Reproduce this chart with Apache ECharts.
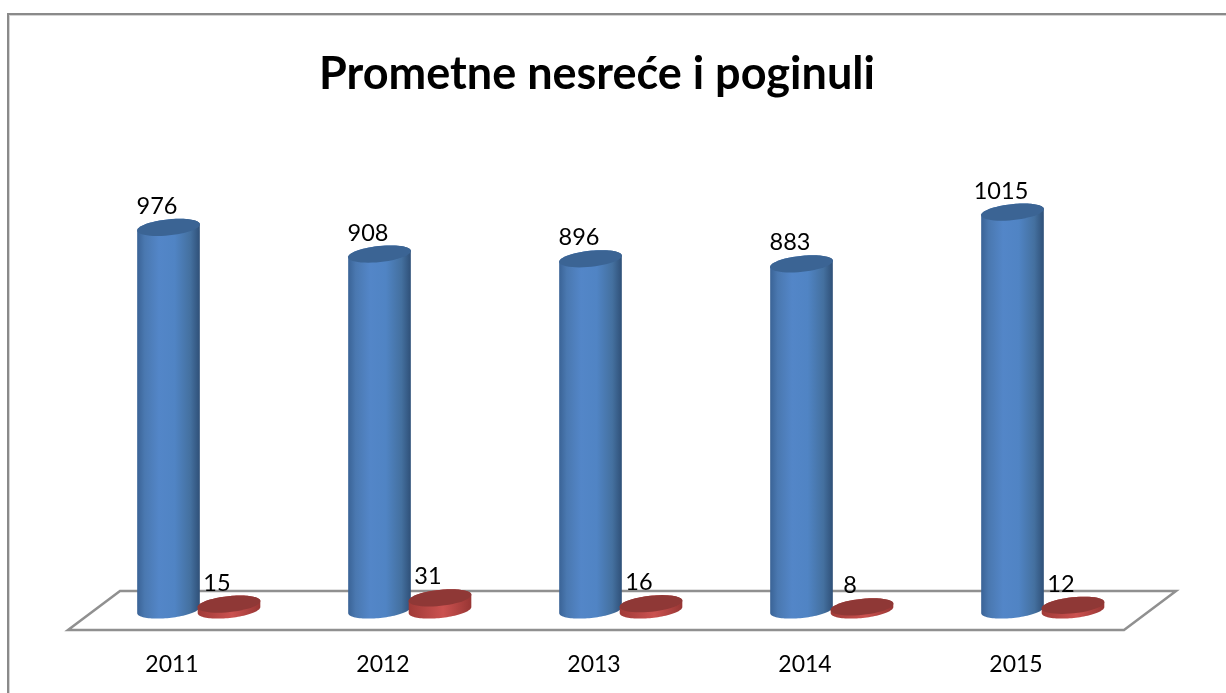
<!DOCTYPE html>
<html><head><meta charset="utf-8">
<style>html,body{margin:0;padding:0;background:#fff}#c{width:1226px;height:693px}</style>
<script src="https://cdn.jsdelivr.net/npm/echarts@6/dist/echarts.min.js"></script>
</head><body><div id="c"></div>
<script>
const categories = ['2011','2012','2013','2014','2015'];
const nesrece = [976,908,896,883,1015];
const poginuli = [15,31,16,8,12];
const titleText = 'Prometne nesreće i poginuli';

const FONT = 'Lato, "Open Sans", sans-serif';
const TILT = -6 * Math.PI / 180;
function ellipsePts(cx, cy, rx, ry, from, to) {
  const pts = [];
  const n = 48;
  for (let i = 0; i <= n; i++) {
    const t = from + (to - from) * i / n;
    const x = rx * Math.cos(t), y = ry * Math.sin(t);
    pts.push([cx + x * Math.cos(TILT) - y * Math.sin(TILT), cy + x * Math.sin(TILT) + y * Math.cos(TILT)]);
  }
  return pts;
}
function grad(stops) {
  return new echarts.graphic.LinearGradient(0, 0, 1, 0, stops.map(s => ({offset: s[0], color: s[1]})));
}
function cylinder(offsetX, body, topColor, labelDx) {
  return function (params, api) {
    const cat = api.value(0), val = api.value(1);
    const top = api.coord([cat, val]);
    const base = api.coord([cat, 0]);
    const cx = top[0] + offsetX, rx = 31.5, ry = 8;
    const lower = ellipsePts(cx, base[1], rx, ry, 0, Math.PI);
    const upper = ellipsePts(cx, top[1], rx, ry, Math.PI, 2 * Math.PI);
    return {
      type: 'group',
      children: [
        {type: 'polygon', shape: {points: lower.concat(upper)}, style: {fill: grad(body)}},
        {type: 'polygon', shape: {points: ellipsePts(cx, top[1], rx, ry, 0, 2 * Math.PI)}, style: {fill: topColor}},
        {type: 'text', style: {text: String(val), x: cx + labelDx, y: top[1] - 21, align: 'center', verticalAlign: 'middle',
          font: '23.5px ' + FONT, fill: '#000'}}
      ]
    };
  };
}
const chart = echarts.init(document.getElementById('c'), null, {renderer: 'canvas'});
chart.setOption({
  animation: false,
  backgroundColor: '#fff',
  title: {text: titleText, left: 592, top: 47, textAlign: 'center',
    textStyle: {fontFamily: FONT, fontWeight: 'bold', fontSize: 45, color: '#000'}},
  grid: {left: 66.5, right: 104.5, top: 178.8, bottom: 83},
  xAxis: {type: 'category', data: categories, axisLine: {show: false}, axisTick: {show: false}, splitLine: {show: false},
    axisLabel: {margin: 43, fontFamily: FONT, fontSize: 23, color: '#000'}},
  yAxis: {type: 'value', min: 0, max: 1100, show: false},
  graphic: [
    {type: 'polyline', z: 0, shape: {points: [[9, 693], [9, 15], [1226, 15]]}, style: {fill: 'none', stroke: '#d4d4d4', lineWidth: 2}},
    {type: 'polyline', z: 0, shape: {points: [[8, 693], [8, 14], [1226, 14]]}, style: {fill: 'none', stroke: '#8a8a8a', lineWidth: 2}},
    {type: 'polygon', z: 0, shape: {points: [[68, 630], [120, 591], [1176, 591], [1124, 630]]}, style: {fill: 'none', stroke: '#909090', lineWidth: 2.5}}
  ],
  series: [
    {type: 'custom', name: 'Nesreće', clip: false, z: 3, data: categories.map((c, i) => [i, nesrece[i]]),
     encode: {x: 0, y: 1},
     renderItem: cylinder(-3.5, [[0, '#3a6396'], [0.12, '#4a78b0'], [0.35, '#5386c8'], [0.6, '#5084c4'], [0.85, '#44709f'], [1, '#2f5078']], '#3b6494', -11.5)},
    {type: 'custom', name: 'Poginuli', clip: false, z: 4, data: categories.map((c, i) => [i, poginuli[i]]),
     encode: {x: 0, y: 1},
     renderItem: cylinder(57, [[0, '#a03a37'], [0.55, '#cb5250'], [1, '#983634']], '#8f3836', -12)}
  ]
});
</script></body></html>
